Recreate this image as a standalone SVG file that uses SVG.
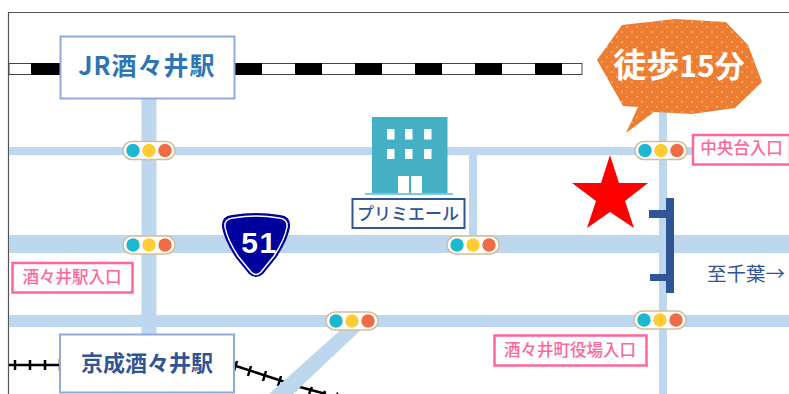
<svg xmlns="http://www.w3.org/2000/svg" width="789" height="394" viewBox="0 0 789 394">
<style>
text{font-family:"Noto Sans CJK JP","Noto Sans",sans-serif;text-anchor:middle}
.road{fill:none;stroke:#bdd7ee}
.stn{fill:#fff;stroke:#8faadc;stroke-width:2}
.pink{fill:#fff;stroke:#ff6699;stroke-width:2.5}
.pt{fill:#ff6699;font-size:16.500px;font-weight:500}
.tick{stroke:#000;stroke-width:2.500;fill:none}
.win{fill:#fff}
.c1{fill:#1cb8d0}.c2{fill:#ffcd33}.c3{fill:#ef6c44}
.pill{fill:#fff;stroke:#d5bd9b;stroke-width:1.5}
.navy{fill:#2f5597}
</style>
<defs>
<pattern id="dots" width="10" height="10" patternUnits="userSpaceOnUse"><rect width="10" height="10" fill="#ed7d31"/><circle cx="2" cy="2" r=".7" fill="#fbe0c8"/><circle cx="7" cy="7" r=".7" fill="#fbe0c8"/></pattern>
<g id="sig"><rect class="pill" x="-26" y="-9" width="52" height="18" rx="9"/><circle class="c1" cx="-16" r="6.700"/><circle class="c2" r="6.700"/><circle class="c3" cx="16" r="6.700"/></g>
</defs>
<rect width="789" height="394" fill="#fff"/>
<path d="M8.500 394V12.500H789" fill="none" stroke="#555" stroke-width="1.2"/>
<g id="connectors">
<g id="rail-jr">
<rect x="9" y="63.500" width="573" height="11" fill="#fff" stroke="#444" stroke-width="1"/>
<path d="M31 69H60M235 69H262M295 69H322M355 69H382M415 69H442M475 69H502M535 69H562" stroke="#000" stroke-width="12" fill="none"/>
</g>
<g id="rail-keisei">
<path class="tick" d="M9 365H60M15 360v10M30 360v10M45 360v10M60 359v12"/>
<path class="tick" d="M236 366L285 382M237 361l-3 10M251 366l-3 10M266 371l-3 10M281 376l-3 10M296 386L326 394M298 383l-3 8M312 387l-3 7M325 391l-1 3M338 393l-1 1"/>
</g>
<g id="roads">
<path class="road" stroke-width="15" d="M149 99V336"/>
<path class="road" stroke-width="8" d="M9 151H789M663 108V394M473 151V240"/>
<path class="road" stroke-width="18" d="M9 244H789"/>
<path class="road" stroke-width="12" d="M9 321H789"/>
<polygon points="345,326 365,326 293,394 269,394" fill="#bdd7ee"/>
</g>
</g>
<g id="star"><polygon points="610,155 619,183 648,183 625,201 634,228 610,212 587,228 596,201 572,183 601,183" fill="#f00"/></g>
<g id="building">
<rect x="372" y="117" width="75.500" height="76" fill="#45b0c3"/>
<rect x="365" y="193" width="88" height="2" fill="#7fcad6"/>
<path class="win" d="M387 129h7.500v10.500h-7.500zM405 129h7.500v10.500h-7.500zM424 129h7.500v10.500h-7.500zM387 149h7.500v10h-7.500zM405 149h7.500v10h-7.500zM424 149h7.500v10h-7.500zM398 176h11v17h-11zM411 176h11v17h-11z"/>
<rect x="352.500" y="199" width="112" height="29" fill="#fff" stroke="#2f5597" stroke-width="2"/>
<text x="408" y="219.500" font-size="17" font-weight="500" fill="#2f5597">プリミエール</text>
</g>
<g id="station-jr"><rect class="stn" x="60.500" y="36.500" width="174" height="62"/><text x="147" y="75" font-size="25" font-weight="700" fill="#2e75b6" letter-spacing="1">JR酒々井駅</text></g>
<g id="station-keisei"><rect class="stn" x="60" y="334.500" width="174" height="58"/><text x="147" y="371" font-size="22" font-weight="700" fill="#2f5597">京成酒々井駅</text></g>
<g id="signals">
<use href="#sig" x="149" y="150.500"/><use href="#sig" x="661" y="150.500"/><use href="#sig" x="149" y="245"/><use href="#sig" x="473" y="245"/><use href="#sig" x="352" y="321"/><use href="#sig" x="660" y="320"/>
</g>
<g id="route51">
<path d="M232 215Q256 211 280 215Q291 216 290 227Q288 240 276 258L263 274Q256 280 249 274L236 258Q224 240 222 227Q221 216 232 215Z" fill="#00009c"/>
<path d="M233 218Q256 214 279 218Q288 219 287 227Q285 239 274 256L261 272Q256 277 251 272L238 256Q227 239 225 227Q224 219 233 218Z" fill="none" stroke="#fff" stroke-width="1.500"/>
<text x="259.500" y="253" font-size="30" font-weight="700" letter-spacing="1.500" fill="#fff" style="font-family:'Liberation Sans',sans-serif">51</text>
</g>
<g id="label-sakai"><rect class="pink" x="12.500" y="263" width="120" height="29.500"/><text class="pt" x="72" y="282.500">酒々井駅入口</text></g>
<g id="label-chuo"><rect class="pink" x="693" y="135" width="97" height="29.500"/><text class="pt" x="741.500" y="154">中央台入口</text></g>
<g id="label-yakuba"><rect class="pink" x="494.500" y="335.500" width="152" height="30"/><text class="pt" x="570" y="355.500">酒々井町役場入口</text></g>
<g id="bridge"><path class="navy" d="M666 198h8v95h-8v-12h-16v-7h16v-56h-17v-8h17z"/></g>
<g id="label-chiba"><text x="746" y="281" font-size="19.500" fill="#2f5597">至千葉→</text></g>
<g id="bubble">
<polygon points="597,60 622,25 675,19 726,22 748,45 762,82 735,108 692,114 654,112 626,133 638,107 623,106" fill="url(#dots)"/>
<text x="679" y="77" font-size="33" font-weight="700" fill="#fff">徒歩<tspan font-size="30">15分</tspan></text>
</g>
</svg>
